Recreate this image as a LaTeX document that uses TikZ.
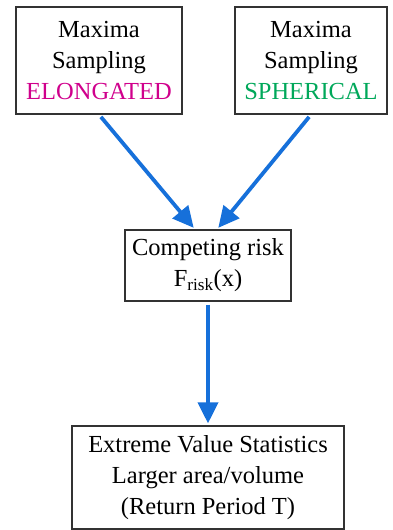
\documentclass[tikz,border=0pt]{standalone}
\usepackage{fontspec}
\setmainfont{Liberation Serif}
\usetikzlibrary{arrows.meta}
\definecolor{elongmag}{RGB}{208,0,140}
\definecolor{spheregreen}{RGB}{0,168,90}
\definecolor{flowblue}{RGB}{22,112,218}
\definecolor{framegray}{RGB}{50,50,50}

\begin{document}
\begin{tikzpicture}[x=1pt, y=1pt,
    box/.style={draw=framegray, line width=1.2pt, align=center, inner sep=0pt,
        font=\fontsize{24.5}{31}\selectfont},
    flow/.style={-{Triangle[length=21pt, width=20pt]}, draw=flowblue, line width=3.8pt, shorten <=3pt, shorten >=2pt}]
    \useasboundingbox (0,0) rectangle (393,530);

    % Sampling boxes
    \node[box, minimum width=166pt, minimum height=107pt] (elong) at (99,469.5)
        {Maxima\\Sampling\\\textcolor{elongmag}{ELONGATED}};
    \node[box, minimum width=152pt, minimum height=107pt] (spher) at (311,469.5)
        {Maxima\\Sampling\\\textcolor{spheregreen}{SPHERICAL}};

    % Competing risk
    \node[box, minimum width=166pt, minimum height=71pt] (risk) at (208,264.5)
        {Competing risk\\F\textsubscript{risk}(x)};

    % Statistics
    \node[box, minimum width=272pt, minimum height=103pt] (stats) at (208,52.5)
        {Extreme Value Statistics\\Larger area/volume\\(Return Period T)};

    % Arrows
    \draw[flow] (elong.south) -- ([xshift=-13pt]risk.north);
    \draw[flow] (spher.south) -- ([xshift=9pt]risk.north);
    \draw[flow] (risk.south) -- (stats.north);
\end{tikzpicture}
\end{document}
